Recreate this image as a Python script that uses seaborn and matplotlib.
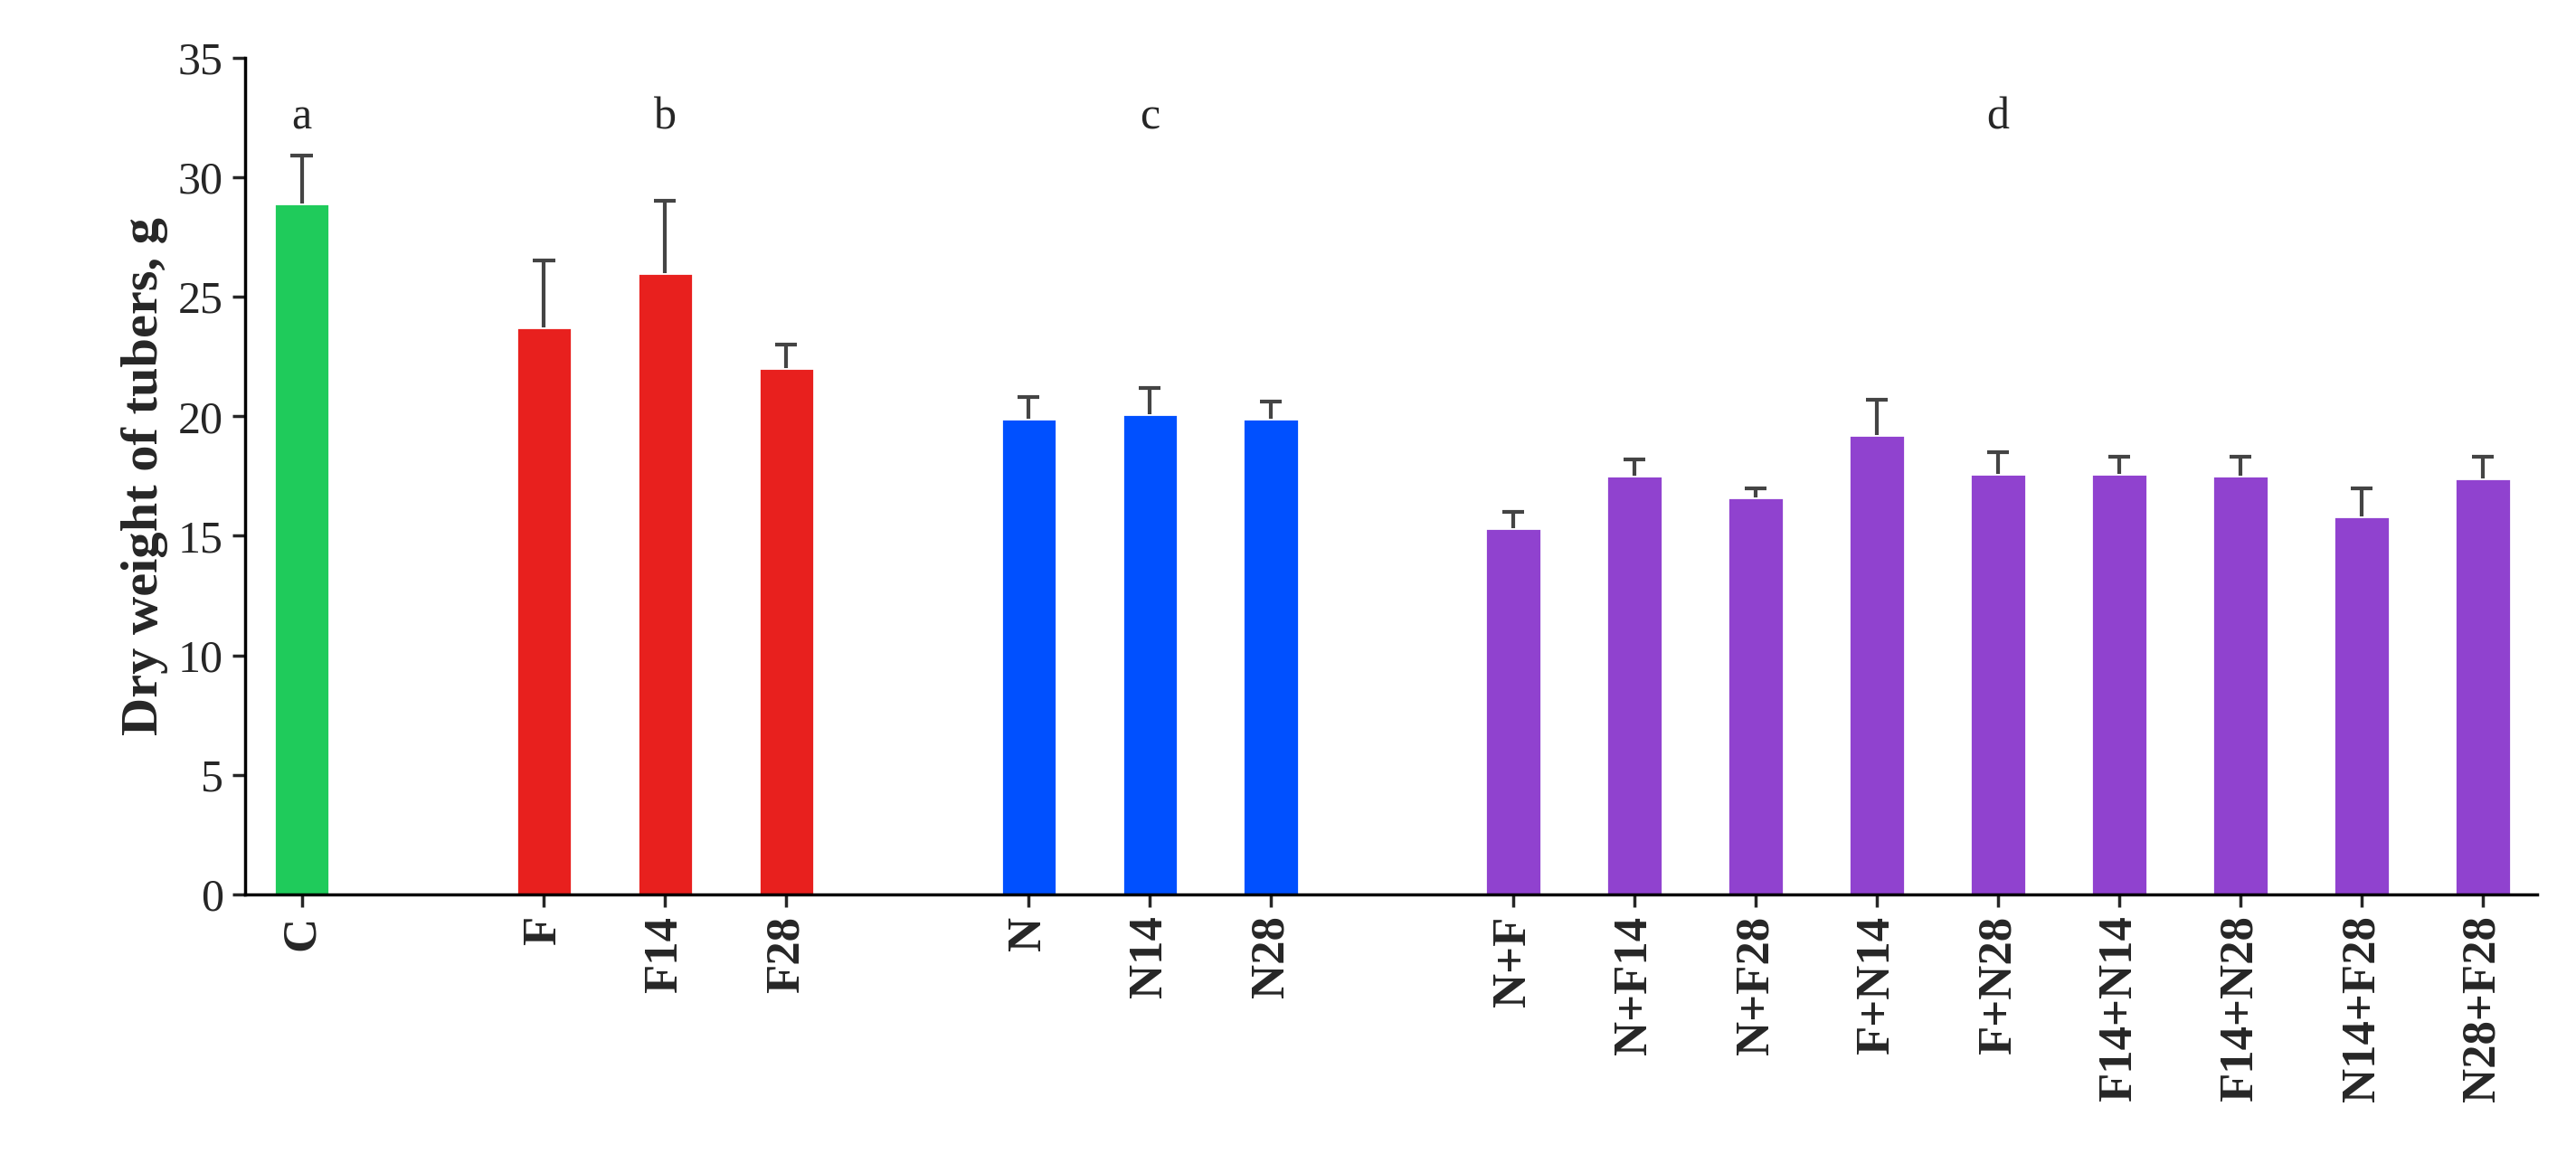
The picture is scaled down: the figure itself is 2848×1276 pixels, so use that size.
import numpy as np
import pandas as pd
import matplotlib
matplotlib.use("Agg")
import matplotlib.pyplot as plt
import seaborn as sns

# 数据
labels = ["C", "F", "F14", "F28", "N", "N14", "N28",
          "N+F", "N+F14", "N+F28", "F+N14", "F+N28", "F14+N14", "F14+N28", "N14+F28", "N28+F28"]
positions = [0, 2, 3, 4, 6, 7, 8, 10, 11, 12, 13, 14, 15, 16, 17, 18]
groups = ["a", "b", "b", "b", "c", "c", "c", "d", "d", "d", "d", "d", "d", "d", "d", "d"]
values = [28.9, 23.7, 26.0, 22.0, 19.9, 20.1, 19.9,
          15.3, 17.5, 16.6, 19.2, 17.6, 17.6, 17.5, 15.8, 17.4]
errors = [2.0, 2.8, 3.0, 1.0, 0.9, 1.1, 0.7,
          0.7, 0.7, 0.4, 1.5, 0.9, 0.7, 0.8, 1.2, 0.9]
group_letters = ["a", "b", "c", "d"]
letter_pos = [0, 3, 7, 14]
palette = {"a": "#1FCB5B", "b": "#E8201E", "c": "#0050FF", "d": "#9042CF"}

sns.set_theme(style="white")
plt.rcParams["font.family"] = ["Liberation Serif", "DejaVu Serif"]

df = pd.DataFrame({"pos": positions, "val": values, "grp": groups})

fig, ax = plt.subplots(figsize=(14.24, 6.38), dpi=200)
sns.barplot(data=df, x="pos", y="val", hue="grp", palette=palette, native_scale=True,
            width=0.46, dodge=False, legend=False, saturation=1, ax=ax)

# 单向误差线（只向上）
tops = np.array(values) + np.array(errors)
ax.vlines(positions, values, tops, color="#444444", linewidth=1.5, zorder=3)
ax.hlines(tops, np.array(positions) - 0.09, np.array(positions) + 0.09,
          color="#444444", linewidth=1.5, zorder=3)

for g, x in zip(group_letters, letter_pos):
    ax.text(x, 32.5, g, ha="center", va="center", fontsize=18)

ax.set_xlim(-0.47, 18.45)
ax.set_ylim(0, 35)
ax.set_yticks(range(0, 36, 5))
ax.set_xticks(positions)
ax.set_xticklabels(labels, rotation=90, fontweight="bold", fontsize=19)
ax.tick_params(axis="y", labelsize=18, left=True, length=5)
ax.tick_params(axis="x", bottom=True, length=5)
ax.set_xlabel("")
ax.set_ylabel("Dry weight of tubers, g", fontsize=21, fontweight="bold")
for s in ["top", "right"]:
    ax.spines[s].set_visible(False)
for s in ["left", "bottom"]:
    ax.spines[s].set_color("black")

plt.subplots_adjust(left=0.095, right=0.985, top=0.95, bottom=0.225)
plt.savefig("out.png", dpi=200)
